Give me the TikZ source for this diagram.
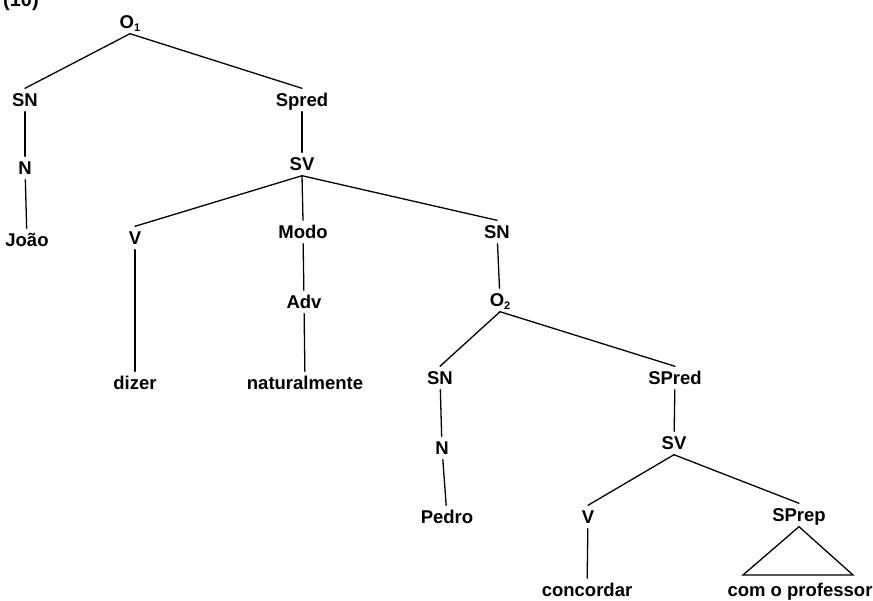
\documentclass[tikz,border=0pt]{standalone}
\usepackage{fontspec}
\setmainfont{Liberation Sans}
\begin{document}
\begin{tikzpicture}[x=1pt,y=-1pt,
  lab/.style={font=\fontsize{18.5}{18.5}\selectfont\bfseries, text height=13pt, text depth=0pt, inner sep=5pt, anchor=center},
  edge/.style={line width=1.3pt, line cap=round}]
\useasboundingbox (0,0) rectangle (873,600);
\node[font=\fontsize{20}{20}\selectfont\bfseries, anchor=base west, inner sep=0pt] (num) at (3,6) {(10)};
\node[lab] (o1) at (130,22) {O\raisebox{-3pt}{\fontsize{11}{11}\selectfont 1}};
\node[lab] (sn1) at (25,100) {SN};
\node[lab] (n1) at (25,168) {N};
\node[lab] (joao) at (27,240) {João};
\node[lab] (spred1) at (302,100) {Spred};
\node[lab] (sv1) at (302,164) {SV};
\node[lab] (v1) at (135,238) {V};
\node[lab] (modo) at (303,232) {Modo};
\node[lab] (adv) at (304,302) {Adv};
\node[lab] (dizer) at (135,383) {dizer};
\node[lab] (nat) at (305,383) {naturalmente};
\node[lab] (sn2) at (497,232) {SN};
\node[lab] (o2) at (500,300) {O\raisebox{-3pt}{\fontsize{11}{11}\selectfont 2}};
\node[lab] (sn3) at (440,378) {SN};
\node[lab] (spred2) at (675,378) {SPred};
\node[lab] (n2) at (442,448) {N};
\node[lab] (sv2) at (674,443) {SV};
\node[lab] (pedro) at (447,517) {Pedro};
\node[lab] (v2) at (588,517) {V};
\node[lab] (sprep) at (799,515) {SPrep};
\node[lab] (conc) at (587,590) {concordar};
\node[lab] (prof) at (800,590) {com o professor};
\coordinate (tl) at (743,575);
\coordinate (tr) at (853,575);
\draw[edge] (o1.south) -- (sn1.north);
\draw[edge] (o1.south) -- (spred1.north);
\draw[edge] (sn1) -- (n1);
\draw[edge] (n1) -- (joao);
\draw[edge] (spred1) -- (sv1);
\draw[edge] (sv1.south) -- (v1.north);
\draw[edge] (sv1.south) -- (modo.north);
\draw[edge] (sv1.south) -- (sn2.north);
\draw[edge] (v1) -- (dizer);
\draw[edge] (modo) -- (adv);
\draw[edge] (adv) -- (nat);
\draw[edge] (sn2) -- (o2);
\draw[edge] (o2.south) -- (sn3.north);
\draw[edge] (o2.south) -- (spred2.north);
\draw[edge] (sn3) -- (n2);
\draw[edge] (n2) -- (pedro);
\draw[edge] (spred2) -- (sv2);
\draw[edge] (sv2.south) -- (v2.north);
\draw[edge] (sv2.south) -- (sprep.north);
\draw[edge] (v2) -- (conc);
\draw[edge, line join=miter] (sprep.south) -- (tl) -- (tr) -- cycle;
\end{tikzpicture}
\end{document}
